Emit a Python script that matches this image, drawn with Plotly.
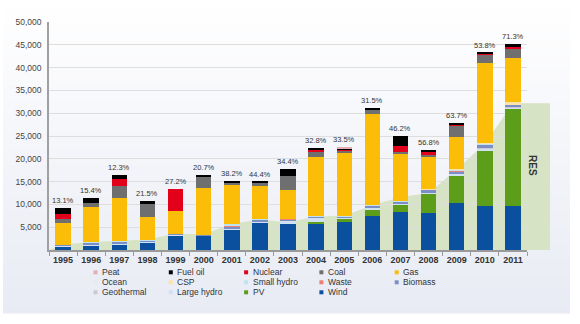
import plotly.graph_objects as go

# New installed power capacity per year (MW), by technology
years = list(range(1995, 2012))
year_labels = [str(y) for y in years]

wind = [800, 1000, 1300, 1750, 3200, 3100, 4500, 6000, 5600, 5850, 6200, 7500, 8400, 8150, 10400, 9700, 9600]
pv = [0, 0, 0, 0, 0, 0, 0, 0, 0, 250, 750, 1450, 1600, 4300, 5750, 12100, 21500]
large_hydro = [200, 250, 200, 150, 150, 100, 150, 200, 800, 1000, 200, 250, 150, 150, 500, 400, 150]
geothermal = [0, 0, 0, 0, 0, 0, 0, 0, 0, 0, 0, 0, 0, 0, 0, 100, 50]
biomass = [150, 350, 300, 250, 200, 150, 450, 450, 300, 150, 300, 600, 400, 600, 600, 800, 500]
waste = [0, 100, 100, 0, 0, 0, 350, 0, 100, 0, 0, 0, 0, 0, 200, 100, 100]
small_hydro = [50, 100, 100, 80, 50, 50, 150, 50, 100, 100, 100, 150, 100, 150, 300, 100, 100]
csp = [0, 0, 0, 0, 0, 0, 0, 0, 0, 0, 0, 0, 0, 50, 100, 250, 350]
ocean = [0, 0, 0, 0, 0, 0, 0, 0, 0, 0, 0, 0, 0, 0, 0, 0, 0]
gas = [4800, 7600, 9350, 5100, 5000, 10300, 8850, 7350, 6300, 13150, 13900, 19800, 10600, 7100, 6900, 17500, 9700]
coal = [700, 950, 2750, 2750, 0, 2450, 400, 650, 2950, 950, 400, 900, 350, 550, 2350, 1850, 2200]
nuclear = [1300, 0, 1450, 0, 4700, 0, 0, 0, 0, 450, 200, 0, 1100, 350, 450, 150, 350]
fuel_oil = [1250, 950, 1000, 700, 0, 350, 200, 300, 1550, 550, 300, 450, 2400, 500, 250, 250, 500]
peat = [0, 0, 0, 0, 0, 0, 0, 0, 0, 0, 150, 0, 0, 0, 0, 0, 0]

# Renewable share of each year's new capacity (%)
res_share = [13.1, 15.4, 12.3, 21.5, 27.2, 20.7, 38.2, 44.4, 34.4, 32.8, 33.5, 31.5, 46.2, 56.8, 63.7, 53.8, 71.3]

y_ticks = [5000, 10000, 15000, 20000, 25000, 30000, 35000, 40000, 45000, 50000]

# Stacking order, bottom to top
series = [
    ("Wind", wind, "#0b4f9f"),
    ("PV", pv, "#5c9e1a"),
    ("Large hydro", large_hydro, "#cfe1f3"),
    ("Geothermal", geothermal, "#c9c9cf"),
    ("Biomass", biomass, "#7b8fc6"),
    ("Waste", waste, "#ee7f74"),
    ("Small hydro", small_hydro, "#bfe3ef"),
    ("CSP", csp, "#fde3a7"),
    ("Ocean", ocean, "#e4ecef"),
    ("Gas", gas, "#fbbd08"),
    ("Coal", coal, "#6f6f6f"),
    ("Nuclear", nuclear, "#e2001a"),
    ("Fuel oil", fuel_oil, "#000000"),
    ("Peat", peat, "#e4aeb4"),
]

totals = [sum(s[1][i] for s in series) for i in range(len(years))]
res_values = [t * p / 100 for t, p in zip(totals, res_share)]

W, H = 580, 324
L, R, T, B = 49, 53, 22, 74
plot_w = W - L - R
plot_h = H - T - B


def px_x(px):
    return (px - L) / plot_w


def px_y(py):
    return (H - B - py) / plot_h


fig = go.Figure()

for name, vals, color in series:
    fig.add_trace(go.Bar(
        x=years, y=vals, name=name, width=0.55,
        marker=dict(color=color, line=dict(width=0)),
        showlegend=False,
        hovertemplate=name + " %{x}: %{y:,} MW<extra></extra>",
    ))

shapes = []

# Soft panel background, white at the top fading to a pale lavender
n_bands = 40
top_c = (255, 255, 255)
bot_c = (232, 235, 244)
panel_top, panel_bot = 0, 313
for i in range(n_bands):
    f = (i + 0.5) / n_bands
    c = tuple(round(a + (b - a) * f) for a, b in zip(top_c, bot_c))
    y0 = panel_top + (panel_bot - panel_top) * i / n_bands
    y1 = panel_top + (panel_bot - panel_top) * (i + 1) / n_bands
    shapes.append(dict(
        type="rect", xref="paper", yref="paper", layer="below",
        x0=px_x(3), x1=px_x(570), y0=px_y(y1 + 0.5), y1=px_y(y0),
        fillcolor="rgb(%d,%d,%d)" % c, line=dict(width=0),
    ))

# Renewable capacity area behind the bars
res_fill = "#d6e4c5"
pts = [(years[0] - 0.5, 0)] + list(zip(years, res_values)) + [(years[-1] + 0.5, res_values[-1]), (years[-1] + 0.5, 0)]
path = "M " + " L ".join("%s,%s" % (x, y) for x, y in pts) + " Z"
shapes.append(dict(type="path", xref="x", yref="y", layer="below", path=path,
                   fillcolor=res_fill, line=dict(width=0)))
# RES block continuing past the last year
shapes.append(dict(type="rect", xref="paper", yref="y", layer="below",
                   x0=1, x1=px_x(550), y0=0, y1=res_values[-1],
                   fillcolor=res_fill, line=dict(width=0)))

annotations = []

# RES share labels above each bar
for yr, tot, share in zip(years, totals, res_share):
    annotations.append(dict(
        x=yr, y=tot, xref="x", yref="y", text="%.1f%%" % share,
        showarrow=False, yanchor="bottom", yshift=1,
        font=dict(family="Liberation Sans, Arial, sans-serif", size=7.5, color="#333333"),
    ))

annotations.append(dict(
    x=px_x(540), y=px_y(178), xref="paper", yref="paper", text="<b>RES</b>",
    showarrow=False, textangle=90,
    font=dict(family="Liberation Sans, Arial, sans-serif", size=10, color="#333333"),
))

# Legend: five columns, top of the stack first
legend_items = [(n, c) for n, _, c in reversed(series)]
for i, (name, color) in enumerate(legend_items):
    row, col = divmod(i, 5)
    cx = 95.5 + 75.3 * col
    cy = 272.3 + 10 * row
    shapes.append(dict(type="rect", xref="paper", yref="paper",
                       x0=px_x(cx - 2), x1=px_x(cx + 2), y0=px_y(cy + 2), y1=px_y(cy - 2),
                       fillcolor=color, line=dict(width=0)))
    annotations.append(dict(
        x=px_x(cx + 4.5), y=px_y(cy), xref="paper", yref="paper", text=name,
        showarrow=False, xanchor="left", yanchor="middle",
        font=dict(family="Liberation Sans, Arial, sans-serif", size=8.5, color="#333333"),
    ))

fig.update_layout(
    width=W, height=H,
    margin=dict(l=L, r=R, t=T, b=B, pad=0),
    barmode="stack",
    paper_bgcolor="white",
    plot_bgcolor="rgba(0,0,0,0)",
    showlegend=False,
    shapes=shapes,
    annotations=annotations,
    font=dict(family="Liberation Sans, Arial, sans-serif", color="#333333"),
    xaxis=dict(
        range=[years[0] - 0.5, years[-1] + 0.5],
        tickvals=years, ticktext=year_labels, ticks="",
        tickfont=dict(size=9, color="#333333", weight="bold"),
        showgrid=False, zeroline=False,
        showline=True, linecolor="#9a9a9a", linewidth=1.5,
        minor=dict(tick0=years[0] - 0.5, dtick=1, ticks="outside", ticklen=4,
                   tickcolor="#9a9a9a", tickwidth=1, showgrid=False),
    ),
    yaxis=dict(
        range=[0, 50000],
        tickvals=y_ticks, tickformat=",",
        tickfont=dict(size=8.5, color="#444444"),
        showgrid=True, gridcolor="#dedede", gridwidth=1,
        zeroline=False, showline=True, linecolor="#a0a0a0", linewidth=1.5,
        ticks="", ticklabelstandoff=4,
    ),
)

fig.write_html("out.html")
